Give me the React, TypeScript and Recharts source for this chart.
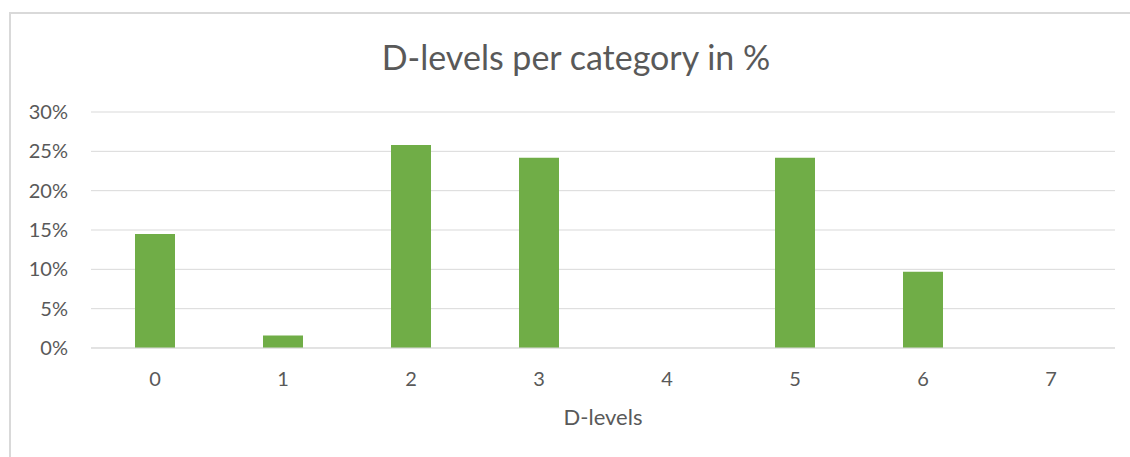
import { BarChart, Bar, XAxis, YAxis, CartesianGrid, Label } from 'recharts';

// share of items per D-level (62 items in total)
const levels = ['0', '1', '2', '3', '4', '5', '6', '7'];
const shares = [0.145, 0.016, 0.258, 0.242, 0, 0.242, 0.097, 0];
const percentTicks = [0, 0.05, 0.1, 0.15, 0.2, 0.25, 0.3];

const chartTitle = 'D-levels per category in %';
const axisTitle = 'D-levels';

const TEXT = '#595959';
const GRID = '#d9d9d9';
const GREEN = '#70ad47';
const FONT = 'Lato, "Open Sans", sans-serif';

const data = levels.map((level, i) => ({ level, share: shares[i] }));

const App = () => {
  return (
    <div
      style={{
        position: 'absolute',
        left: 0,
        top: 0,
        width: 1130,
        height: 457,
        overflow: 'hidden',
        background: '#fff',
        fontFamily: FONT,
      }}
    >
      {/* chart frame, runs past the right and bottom edges */}
      <div
        style={{
          position: 'absolute',
          left: 9,
          top: 12,
          width: 1140,
          height: 470,
          border: `2px solid ${GRID}`,
          boxSizing: 'border-box',
        }}
      />
      <svg width={1130} height={457} style={{ position: 'absolute', left: 0, top: 0 }}>
        <text x={576} y={70} textAnchor="middle" fill={TEXT} fontFamily={FONT} fontSize={34}>
          {chartTitle}
        </text>
      </svg>
      <div style={{ position: 'absolute', left: 0, top: 0 }}>
        <BarChart
          width={1130}
          height={457}
          data={data}
          margin={{ top: 112, right: 15, bottom: 29, left: 0 }}
          barSize={40}
        >
          <CartesianGrid vertical={false} stroke={GRID} strokeWidth={1} />
          <XAxis
            dataKey="level"
            height={80}
            axisLine={{ stroke: GRID }}
            tickLine={false}
            tickSize={0}
            tickMargin={24}
            tick={{ fill: TEXT, fontSize: 20, fontFamily: FONT }}
          >
            <Label
              value={axisTitle}
              position="insideBottom"
              offset={3}
              fill={TEXT}
              fontSize={22}
              fontFamily={FONT}
            />
          </XAxis>
          <YAxis
            width={91}
            domain={[0, 0.3]}
            ticks={percentTicks}
            axisLine={false}
            tickLine={false}
            tickSize={0}
            tickMargin={23}
            tickFormatter={(v: number) => `${Math.round(v * 100)}%`}
            tick={{ fill: TEXT, fontSize: 20, fontFamily: FONT }}
          />
          <Bar dataKey="share" fill={GREEN} isAnimationActive={false} />
        </BarChart>
      </div>
    </div>
  );
};

export default App;
